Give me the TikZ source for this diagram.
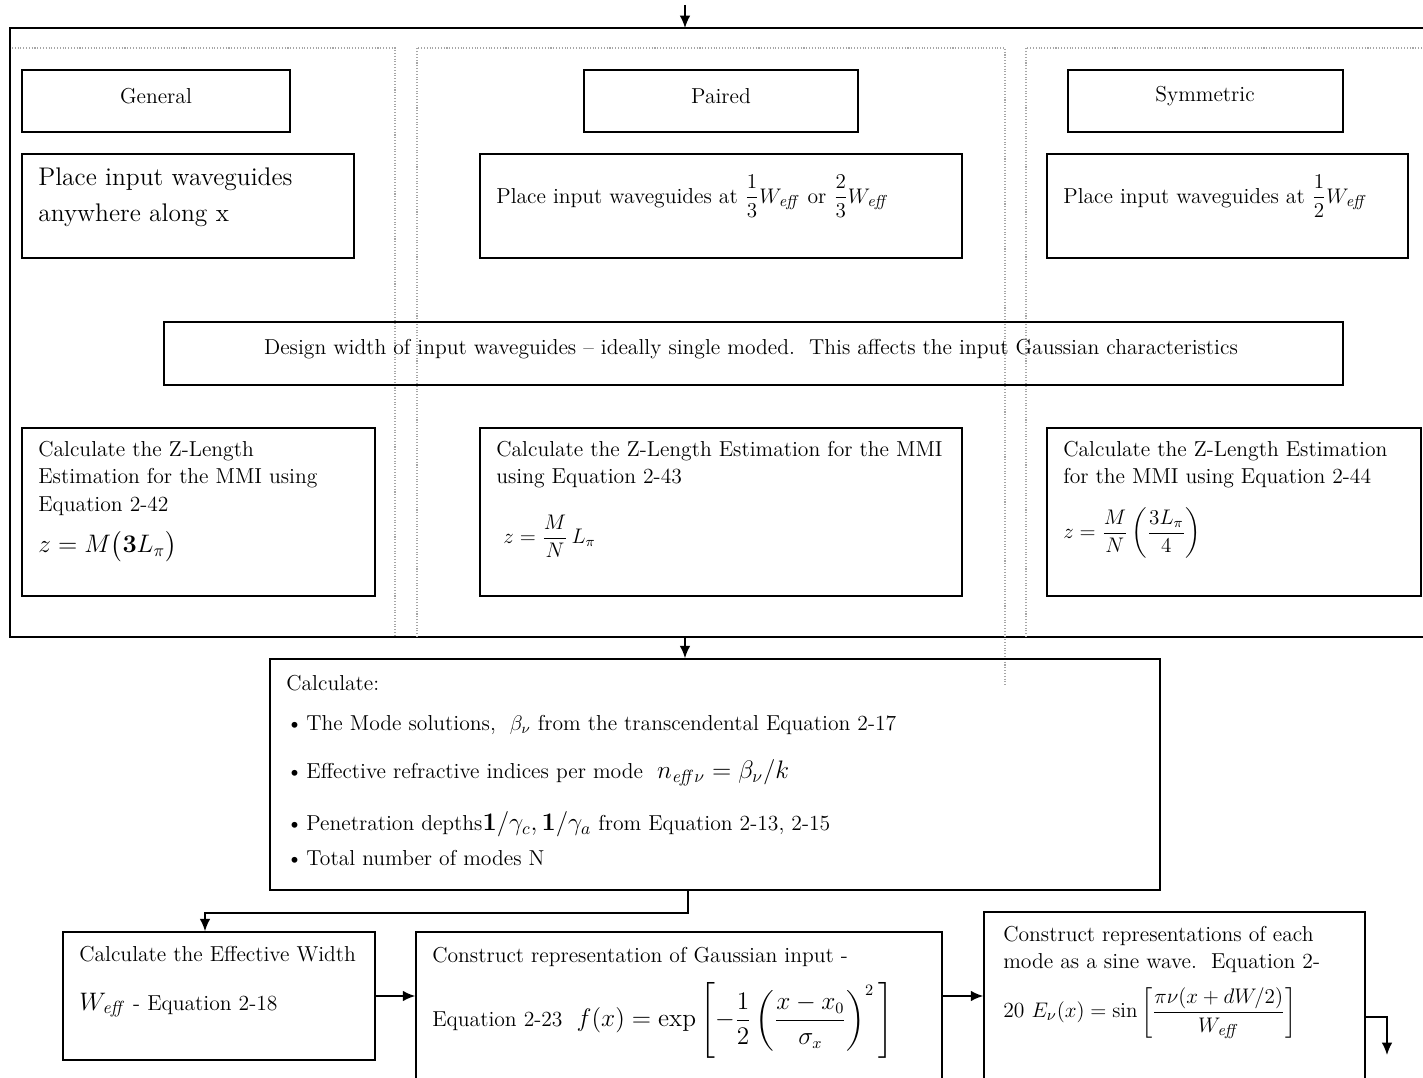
\documentclass[tikz,border=0pt]{standalone}
\usepackage{amsmath}
\usetikzlibrary{arrows.meta,fit}

\tikzset{
  box/.style={draw,line width=0.9pt,inner sep=0pt},
  column/.style={draw=gray!70,densely dotted,line width=0.6pt},
  flow/.style={line width=0.9pt,-{Latex[length=7pt,width=6pt]}},
  txt/.style={inner sep=0pt,align=left,font=\fontsize{12.3}{15.6}\selectfont},
}
\newcommand{\Weff}{W_{\mathit{eff}}}

\begin{document}
\begin{tikzpicture}[x=0.02cm,y=-0.02cm]
  \useasboundingbox (0,0) rectangle (1423,1078);

  % outer frame (right side runs off the page) and the three columns
  \draw[line width=1.2pt] (1430,28) -- (10,28) -- (10,637) -- (1430,637);
  \draw[column] (12,48) -- (395,48) -- (395,637);
  \draw[column] (417,637) -- (417,48) -- (1005,48) -- (1005,685);
  \draw[column] (1026,637) -- (1026,48) -- (1430,48);
  \coordinate (entry) at (685,5);
  \coordinate (frametop) at (685,28);
  \coordinate (framebot) at (685,637);

  % column headings
  \node[box,fit={(22,70) (290,132)}] (general) {};
  \node[txt] (generalt) at (156,96) {General};
  \node[box,fit={(584,70) (858,132)}] (paired) {};
  \node[txt] (pairedt) at (721,96) {Paired};
  \node[box,fit={(1068,70) (1343,132)}] (symm) {};
  \node[txt] (symmt) at (1205,96) {Symmetric};

  % where the input waveguides go
  \node[box,fit={(22,154) (354,258)}] (placegen) {};
  \node[txt,anchor=north west,font=\fontsize{14.5}{20.5}\selectfont] (placegent) at (38,167)
    {Place input waveguides\\anywhere along x};
  \node[box,fit={(480,154) (962,258)}] (placepair) {};
  \node[txt,anchor=base west] (placepairt) at (496,203)
    {Place input waveguides at $\dfrac{1}{3}\Weff$ or $\dfrac{2}{3}\Weff$};
  \node[box,fit={(1047,154) (1408,258)}] (placesym) {};
  \node[txt,anchor=base west] (placesymt) at (1063,203)
    {Place input waveguides at $\dfrac{1}{2}\Weff$};

  \node[box,fit={(164,322) (1343,385)}] (width) {};
  \node[txt,anchor=base] (widtht) at (751,354)
    {Design width of input waveguides -- ideally single moded.\ \ This affects the input Gaussian characteristics};

  % z-length estimates
  \node[box,fit={(22,428) (375,596)}] (zgen) {};
  \node[txt,anchor=north west] (zgent) at (38,441)
    {Calculate the Z-Length\\Estimation for the MMI using\\Equation 2-42\\[8pt]
     {\Large $z = M\bigl(\mathbf{3}L_\pi\bigr)$}};
  \node[box,fit={(480,428) (962,596)}] (zpair) {};
  \node[txt,anchor=north west] (zpairt) at (496,441)
    {Calculate the Z-Length Estimation for the MMI\\using Equation 2-43\\[14pt]
     \ {\large $z = \dfrac{M}{N}\,L_\pi$}};
  \node[box,fit={(1047,428) (1421,596)}] (zsym) {};
  \node[txt,anchor=north west] (zsymt) at (1063,441)
    {Calculate the Z-Length Estimation\\for the MMI using Equation 2-44\\[10pt]
     {\large $z = \dfrac{M}{N}\left(\dfrac{3L_\pi}{4}\right)$}};

  % mode solutions
  \node[box,fit={(270,659) (1160,890)}] (modes) {};
  \node[txt,anchor=north west] (modest) at (286,675)
    {Calculate:\\[7pt]
     \textbullet\,The Mode solutions,\ \ {\large$\beta_\nu$} from the transcendental Equation 2-17\\[12pt]
     \textbullet\,Effective refractive indices per mode\ \ {\Large$n_{\mathit{eff}\nu} = \beta_\nu/k$}\\[14pt]
     \textbullet\,Penetration depths{\Large$\mathbf{1}/\gamma_c,\mathbf{1}/\gamma_a$} from Equation 2-13, 2-15\\[4pt]
     \textbullet\,Total number of modes N};
  \coordinate (split) at (688,913);

  % bottom row
  \node[box,fit={(63,932) (375,1060)}] (effw) {};
  \node[txt,anchor=north west] (effwt) at (79,946)
    {Calculate the Effective Width\\[12pt]{\Large$\Weff$}\ - Equation 2-18};
  \node[box,fit={(416,932) (942,1095)}] (gauss) {};
  \node[txt,anchor=north west] (gausst) at (432,947)
    {Construct representation of Gaussian input -\\[8pt]
     Equation 2-23\ \ {\fontsize{13.5}{16}\selectfont$f(x) = \exp\left[-\dfrac{1}{2}\left(\dfrac{x-x_0}{\sigma_x}\right)^{2}\,\right]$}};
  \node[box,fit={(984,912) (1365,1095)}] (sine) {};
  \node[txt,anchor=north west] (sinet) at (1003,926)
    {Construct representations of each\\mode as a sine wave.\ \ Equation 2-\\[7pt]
     20 {\fontsize{13}{16}\selectfont$E_\nu(x) = \sin\left[\dfrac{\pi\nu(x+dW/2)}{\Weff}\right]$}};
  \coordinate (exit) at (1387,1055);

  % connectors
  \draw[flow] (entry) -- (frametop);
  \draw[flow] (framebot) -- (framebot |- modes.north);
  \draw[flow] (split |- modes.south) -- (split) -| (205,0 |- effw.north);
  \draw[flow] (effw.east |- 0,996) -- (gauss.west |- 0,996);
  \draw[flow] (gauss.east |- 0,996) -- (sine.west |- 0,996);
  \draw[flow] (sine.east |- 0,1017) -| (exit);
\end{tikzpicture}
\end{document}
